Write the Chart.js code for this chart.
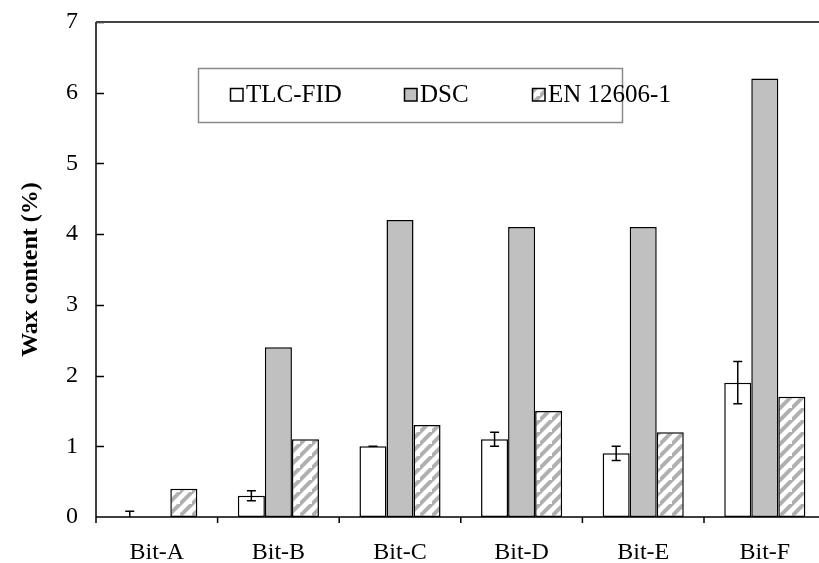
<!DOCTYPE html>
<html>
<head>
<meta charset="utf-8">
<script src="https://cdn.jsdelivr.net/npm/chart.js@4.4.1/dist/chart.umd.min.js"></script>
<style>
  html, body { margin: 0; padding: 0; background: #fff; overflow: hidden; }
  #wrap { width: 840px; height: 563px; }
</style>
</head>
<body>
<div id="wrap"><canvas id="c" width="840" height="563"></canvas></div>
<script>
// Wax content of six bitumens measured by three methods
const categories = ['Bit-A', 'Bit-B', 'Bit-C', 'Bit-D', 'Bit-E', 'Bit-F'];
const tlcFid    = [0.0, 0.3, 1.0, 1.1, 0.9, 1.9];
const tlcFidErr = [0.08, 0.07, 0.0, 0.1, 0.1, 0.3];
const dsc       = [0.0, 2.4, 4.2, 4.1, 4.1, 6.2];
const en12606   = [0.4, 1.1, 1.3, 1.5, 1.2, 1.7];
const yTicks    = [0, 1, 2, 3, 4, 5, 6, 7];

const SERIF = '"Liberation Serif", "Times New Roman", serif';

// diagonal hatch fill
function hatch() {
  const s = 12;
  const p = document.createElement('canvas');
  p.width = s; p.height = s;
  const g = p.getContext('2d');
  g.fillStyle = '#ffffff';
  g.fillRect(0, 0, s, s);
  g.strokeStyle = '#b0b0b0';
  g.lineWidth = 4;
  g.beginPath();
  g.moveTo(-2, s + 2); g.lineTo(s + 2, -2);
  g.moveTo(-2 - s, s + 2); g.lineTo(2, -2);
  g.moveTo(s - 2, 2 * s + 2); g.lineTo(2 * s + 2, s - 2);
  g.stroke();
  return g.createPattern(p, 'repeat');
}
const hatchFill = hatch();

// axis frame, inward/outward tick marks
const framePlugin = {
  id: 'frame',
  afterDraw(chart) {
    const { ctx, chartArea: a, scales: { y } } = chart;
    ctx.save();
    ctx.strokeStyle = '#000';
    ctx.lineWidth = 1.5;
    ctx.beginPath();
    ctx.moveTo(a.left, a.top); ctx.lineTo(a.left, a.bottom + 6);
    ctx.moveTo(a.left, a.bottom); ctx.lineTo(a.right, a.bottom);
    yTicks.forEach(v => {
      if (v === 0) return;
      const py = Math.round(y.getPixelForValue(v)) + 0.5;
      ctx.moveTo(a.left, py); ctx.lineTo(a.left + 8, py);
    });
    const n = categories.length;
    const step = (a.right - a.left) / n;
    for (let i = 1; i <= n; i++) {
      const bx = a.left + i * step;
      ctx.moveTo(bx, a.bottom); ctx.lineTo(bx, a.bottom + 6);
    }
    ctx.stroke();
    ctx.strokeStyle = '#444';
    ctx.lineWidth = 2;
    ctx.beginPath();
    ctx.moveTo(a.left, a.top); ctx.lineTo(a.right, a.top);
    ctx.stroke();
    ctx.restore();
  }
};

// error bars on the first series
const errorPlugin = {
  id: 'errors',
  afterDatasetsDraw(chart) {
    const { ctx, scales: { y }, chartArea: a } = chart;
    const meta = chart.getDatasetMeta(0);
    ctx.save();
    ctx.strokeStyle = '#000';
    ctx.lineWidth = 1.5;
    meta.data.forEach((bar, i) => {
      const v = tlcFid[i], e = tlcFidErr[i];
      const top = y.getPixelForValue(v + e);
      const bot = Math.min(y.getPixelForValue(v - e), a.bottom);
      const cx = bar.x;
      ctx.beginPath();
      ctx.moveTo(cx, top); ctx.lineTo(cx, bot);
      ctx.moveTo(cx - 4.5, top); ctx.lineTo(cx + 4.5, top);
      if (v - e >= 0) { ctx.moveTo(cx - 4.5, bot); ctx.lineTo(cx + 4.5, bot); }
      ctx.stroke();
    });
    ctx.restore();
  }
};

// boxed legend inside the plot
const legendBox = {
  id: 'legendBox',
  afterDraw(chart) {
    const { ctx } = chart;
    ctx.save();
    ctx.strokeStyle = '#8a8a8a';
    ctx.lineWidth = 1.5;
    ctx.strokeRect(198.5, 68.5, 424, 54);
    const items = [
      { x: 230, fill: '#ffffff' },
      { x: 404, fill: '#c0c0c0' },
      { x: 532, fill: hatchFill }
    ];
    ctx.font = '25px ' + SERIF;
    ctx.textBaseline = 'middle';
    chart.data.datasets.forEach((ds, i) => {
      const it = items[i];
      ctx.fillStyle = it.fill;
      ctx.fillRect(it.x, 88, 13, 13);
      ctx.strokeStyle = '#000';
      ctx.lineWidth = 1.5;
      ctx.strokeRect(it.x + 0.5, 88.5, 12.5, 12.5);
      ctx.fillStyle = '#000';
      ctx.fillText(ds.label, it.x + 16, 95);
    });
    ctx.restore();
  }
};

new Chart(document.getElementById('c'), {
  type: 'bar',
  data: {
    labels: categories,
    datasets: [
      { label: 'TLC-FID', data: tlcFid, backgroundColor: '#ffffff', borderColor: '#000', borderWidth: 1.5 },
      { label: 'DSC', data: dsc, backgroundColor: '#c0c0c0', borderColor: '#000', borderWidth: 1.5 },
      { label: 'EN 12606-1', data: en12606, backgroundColor: hatchFill, borderColor: '#000', borderWidth: 1.5 }
    ]
  },
  options: {
    responsive: false,
    animation: false,
    devicePixelRatio: 1,
    layout: { padding: { top: 22, right: 14.4, left: 0, bottom: 0 } },
    datasets: { bar: { categoryPercentage: 0.667, barPercentage: 1.0, borderSkipped: false } },
    plugins: { legend: { display: false }, tooltip: { enabled: false } },
    scales: {
      x: {
        type: 'category',
        offset: true,
        grid: { display: false, drawTicks: false },
        border: { display: false },
        ticks: { color: '#000', font: { family: SERIF, size: 24 }, padding: 21, maxRotation: 0 },
        afterFit(s) { s.height = 46; s.paddingLeft = 0; s.paddingRight = 0; }
      },
      y: {
        min: 0, max: 7,
        afterBuildTicks(s) { s.ticks = yTicks.map(v => ({ value: v })); },
        grid: { display: false, drawTicks: false },
        border: { display: false },
        ticks: { color: '#000', font: { family: SERIF, size: 24 }, padding: 18 },
        title: { display: true, text: 'Wax content (%)', color: '#000', font: { family: SERIF, size: 24, weight: 'bold' }, padding: { top: 16, bottom: 0 } },
        afterFit(s) { s.width = 96; s.paddingTop = 0; s.paddingBottom = 0; }
      }
    }
  },
  plugins: [framePlugin, errorPlugin, legendBox]
});
</script>
</body>
</html>
